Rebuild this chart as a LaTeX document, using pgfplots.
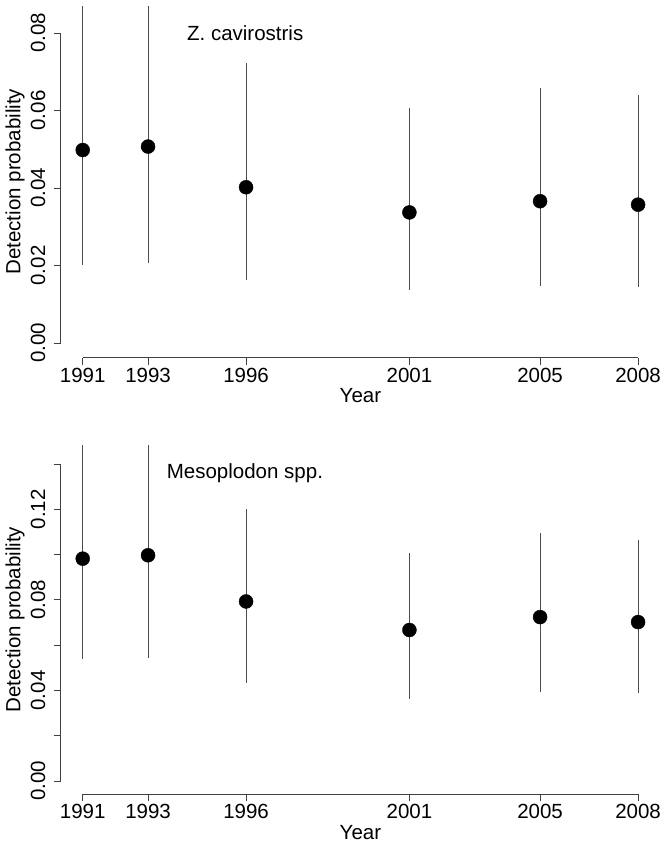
\documentclass[border=0pt]{standalone}
\usepackage{fontspec}
\setmainfont{Liberation Sans}
\usepackage{pgfplots}
\usepackage{pgfplotstable}
\pgfplotsset{compat=1.18}

\newcommand\rfont{\fontsize{20.5bp}{24bp}\selectfont}

% year, estimate, lower, upper (upper bounds beyond the frame are clipped)
\pgfplotstableread{
year p lo hi
1991 0.0498 0.0201 0.0950
1993 0.0507 0.0206 0.0960
1996 0.0402 0.0163 0.0722
2001 0.0337 0.0137 0.0606
2005 0.0366 0.0148 0.0659
2008 0.0357 0.0144 0.0640
}\zcav

\pgfplotstableread{
year p lo hi
1991 0.0982 0.0538 0.1600
1993 0.0997 0.0544 0.1600
1996 0.0793 0.0435 0.1202
2001 0.0667 0.0364 0.1006
2005 0.0724 0.0395 0.1097
2008 0.0702 0.0388 0.1064
}\meso

\pgfplotsset{
  rpanel/.style={
    scale only axis, width=599.8bp, anchor=south west,
    xmin=1990.32, xmax=2008.68,
    axis lines*=left,
    axis line style={black!75, line width=0.8bp, -},
    x axis line style={shorten <=22.2bp, shorten >=22.2bp},
    tick align=outside, major tick length=7bp,
    tick style={black!75, line width=0.8bp},
    scaled y ticks=false, scaled x ticks=false,
    xtick={1991,1993,1996,2001,2005,2008},
    xticklabels={1991,1993,1996,2001,2005,2008},
    tick label style={font=\rfont},
    label style={font=\rfont},
    xticklabel style={inner sep=3bp},
    yticklabel style={rotate=90, anchor=south, inner xsep=0pt, inner ysep=8bp},
    xlabel={Year}, ylabel={Detection probability},
    xlabel style={at={([yshift=-38bp]axis description cs:0.5,0)}, anchor=center},
    ylabel style={at={([xshift=-45.5bp]axis description cs:0,0.5)}, anchor=center},
  },
  rbars/.style={draw=none, mark=none, forget plot,
    error bars/.cd, y dir=both, y explicit, error mark=none,
    error bar style={black!70, line width=0.8bp}},
  rdots/.style={only marks, mark=*, mark size=7bp, black},
}

\begin{document}
\begin{tikzpicture}
\path[use as bounding box] (0,0) rectangle (668bp,-851bp);

\begin{axis}[rpanel, at={(60.5bp,-357.5bp)}, height=351.5bp,
  ymin=-0.00374, ymax=0.08697,
  y axis line style={shorten <=14.5bp, shorten >=26.9bp},
  ytick={0,0.02,0.04,0.06,0.08},
  yticklabels={0.00,0.02,0.04,0.06,0.08}]
\addplot[rbars] table[x=year, y=p,
  y error plus expr=\thisrow{hi}-\thisrow{p},
  y error minus expr=\thisrow{p}-\thisrow{lo}] {\zcav};
\addplot[rdots] table[x=year, y=p] {\zcav};
\node[anchor=base west, inner sep=0pt, font=\rfont] at (axis cs:1994.19,0.0780) {Z. cavirostris};
\end{axis}

\begin{axis}[rpanel, at={(60.5bp,-794.3bp)}, height=349.3bp,
  ymin=-0.00587, ymax=0.1484,
  y axis line style={shorten <=13.3bp, shorten >=19.0bp},
  ytick={0,0.02,0.04,0.06,0.08,0.10,0.12,0.14},
  yticklabels={0.00,,0.04,,0.08,,0.12,}]
\addplot[rbars] table[x=year, y=p,
  y error plus expr=\thisrow{hi}-\thisrow{p},
  y error minus expr=\thisrow{p}-\thisrow{lo}] {\meso};
\addplot[rdots] table[x=year, y=p] {\meso};
\node[anchor=base west, inner sep=0pt, font=\rfont] at (axis cs:1993.57,0.1337) {Mesoplodon spp.};
\end{axis}
\end{tikzpicture}
\end{document}
